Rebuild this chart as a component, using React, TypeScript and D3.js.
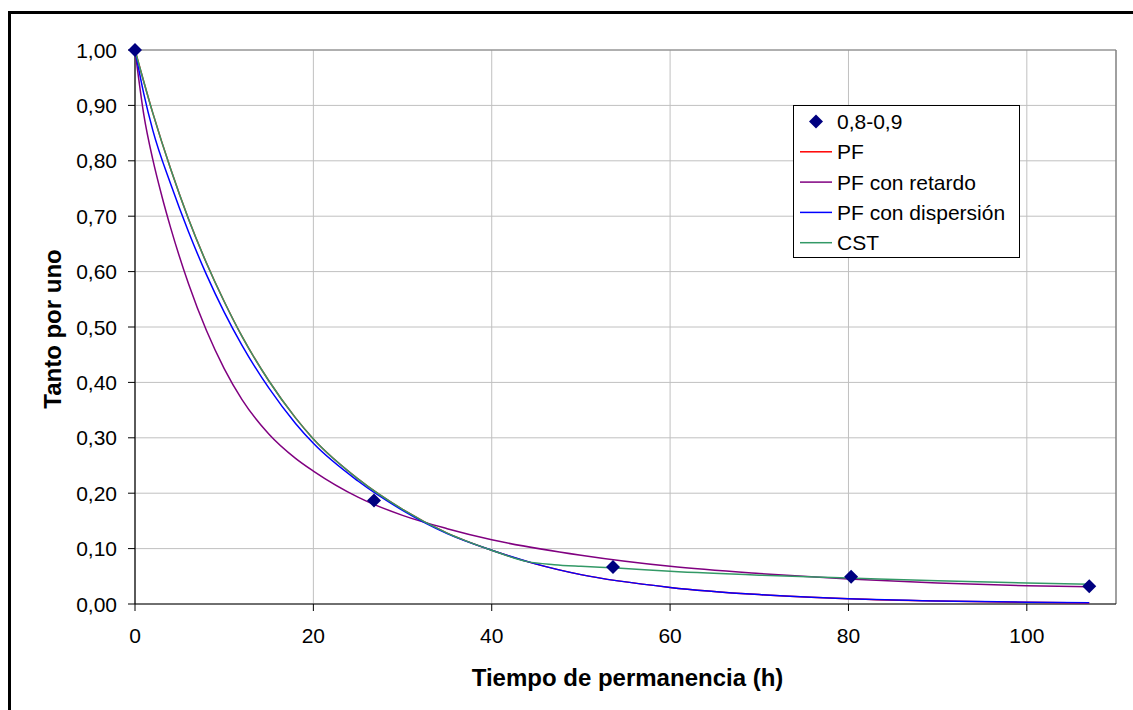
import React from "react";
import * as d3 from "d3";

const obsT = [0, 26.8, 53.6, 80.3, 107];
const obsV = [1.0, 0.187, 0.067, 0.049, 0.032];

const pfT = [0, 2, 4, 6, 8, 10, 12, 15, 18, 20, 25, 30, 35, 40, 45, 50, 60, 70, 80, 90, 100, 107];
const pfV = [1.0, 0.886, 0.785, 0.695, 0.616, 0.546, 0.483, 0.403, 0.336, 0.298, 0.226, 0.171, 0.128, 0.097, 0.072, 0.053, 0.03, 0.017, 0.0095, 0.0053, 0.003, 0.002];

const retT = [0, 1, 2, 3, 4, 6, 8, 10, 12, 15, 18, 20, 25, 30, 35, 40, 50, 60, 70, 80, 90, 100, 107];
const retV = [1.0, 0.882, 0.802, 0.737, 0.679, 0.578, 0.494, 0.425, 0.369, 0.307, 0.263, 0.24, 0.193, 0.16, 0.136, 0.116, 0.088, 0.068, 0.055, 0.045, 0.038, 0.033, 0.031];

const dispT = [0, 1, 2, 4, 6, 8, 10, 12, 15, 18, 20, 25, 30, 35, 40, 45, 50, 60, 70, 80, 90, 100, 107];
const dispV = [1.0, 0.92, 0.855, 0.758, 0.672, 0.595, 0.527, 0.467, 0.39, 0.326, 0.29, 0.222, 0.169, 0.127, 0.097, 0.072, 0.053, 0.03, 0.017, 0.0095, 0.0055, 0.0032, 0.0024];

const cstT = [0, 2, 4, 6, 8, 10, 12, 15, 18, 20, 25, 30, 35, 40, 44, 47, 50, 54, 60, 70, 80, 90, 100, 107];
const cstV = [1.0, 0.886, 0.785, 0.695, 0.616, 0.546, 0.483, 0.403, 0.336, 0.298, 0.226, 0.171, 0.128, 0.097, 0.0765, 0.071, 0.068, 0.065, 0.059, 0.052, 0.047, 0.042, 0.038, 0.0355];

const xTicks = [0, 20, 40, 60, 80, 100];
const yTicks = [0, 0.1, 0.2, 0.3, 0.4, 0.5, 0.6, 0.7, 0.8, 0.9, 1.0];

const seriesNames = ["0,8-0,9", "PF", "PF con retardo", "PF con dispersión", "CST"];
const seriesColors = ["#000080", "#FF0000", "#800080", "#0000FF", "#339966"];

const W = 1133;
const H = 710;
const L = 135, R = 1116, T = 50, B = 604;
const FONT = "'Liberation Sans', Arial, sans-serif";

export default function App() {
  const x = d3.scaleLinear().domain([0, 110]).range([L, R]);
  const y = d3.scaleLinear().domain([0, 1]).range([B, T]);
  const line = d3
    .line<[number, number]>()
    .x((d) => x(d[0]))
    .y((d) => y(d[1]))
    .curve(d3.curveMonotoneX);

  const lines = [
    { t: pfT, v: pfV, c: seriesColors[1] },
    { t: retT, v: retV, c: seriesColors[2] },
    { t: dispT, v: dispV, c: seriesColors[3] },
    { t: cstT, v: cstV, c: seriesColors[4] },
  ];

  const diamond = (cx: number, cy: number, r: number) =>
    `M${cx},${cy - r}L${cx + r},${cy}L${cx},${cy + r}L${cx - r},${cy}Z`;

  const fmt = (v: number) => v.toFixed(2).replace(".", ",");

  const legX = 793, legY = 105, legW = 226, legH = 152;
  const legStep = 30.3;
  const legStart = 121.5;

  return (
    <svg
      width={W}
      height={H}
      style={{ position: "absolute", left: 0, top: 0, background: "#fff" }}
      fontFamily={FONT}
    >
      <rect x={0} y={0} width={W} height={H} fill="#fff" />
      <rect x={9.5} y={12.5} width={W + 20} height={H + 20} fill="none" stroke="#000" strokeWidth={3} />
      {yTicks.map((v) => (
        <line key={"gy" + v} x1={L} x2={R} y1={y(v)} y2={y(v)} stroke="#c0c0c0" strokeWidth={1} />
      ))}
      {xTicks.map((v) => (
        <line key={"gx" + v} x1={x(v)} x2={x(v)} y1={T} y2={B} stroke="#c0c0c0" strokeWidth={1} />
      ))}
      <line x1={L} x2={R} y1={T} y2={T} stroke="#808080" strokeWidth={1} />
      <line x1={R} x2={R} y1={T} y2={B} stroke="#808080" strokeWidth={1.5} />
      <line x1={L} x2={L} y1={T} y2={B} stroke="#000" strokeWidth={1.2} />
      <line x1={L} x2={R} y1={B} y2={B} stroke="#000" strokeWidth={1.2} />
      {yTicks.map((v) => (
        <g key={"ty" + v}>
          <line x1={L - 7} x2={L} y1={y(v)} y2={y(v)} stroke="#000" strokeWidth={1} />
          <text x={117} y={y(v) + 7.5} textAnchor="end" fontSize={21} fill="#000">
            {fmt(v)}
          </text>
        </g>
      ))}
      {xTicks.map((v) => (
        <g key={"tx" + v}>
          <line x1={x(v)} x2={x(v)} y1={B} y2={B + 7} stroke="#000" strokeWidth={1} />
          <text x={x(v)} y={643} textAnchor="middle" fontSize={21} fill="#000">
            {v}
          </text>
        </g>
      ))}
      {lines.map((s, i) => (
        <path
          key={"l" + i}
          d={line(s.t.map((t, j) => [t, s.v[j]] as [number, number])) || ""}
          fill="none"
          stroke={s.c}
          strokeWidth={1.5}
        />
      ))}
      {obsT.map((t, i) => (
        <path key={"m" + i} d={diamond(x(t), y(obsV[i]), 7)} fill={seriesColors[0]} />
      ))}
      <text x={(L + R) / 2 + 2} y={686} textAnchor="middle" fontSize={24} fontWeight="bold" fill="#000">
        Tiempo de permanencia (h)
      </text>
      <text
        transform={`translate(61,${(T + B) / 2 + 2}) rotate(-90)`}
        textAnchor="middle"
        fontSize={24}
        fontWeight="bold"
        fill="#000"
      >
        Tanto por uno
      </text>
      <rect x={legX + 0.5} y={legY + 0.5} width={legW} height={legH} fill="#fff" stroke="#000" strokeWidth={1} />
      {seriesNames.map((n, i) => {
        const cy = legStart + i * legStep;
        return (
          <g key={"lg" + i}>
            {i === 0 ? (
              <path d={diamond(816, cy, 7)} fill={seriesColors[0]} />
            ) : (
              <line x1={800} x2={832} y1={cy} y2={cy} stroke={seriesColors[i]} strokeWidth={1.5} />
            )}
            <text x={837} y={cy + 7.5} fontSize={21} fill="#000">
              {n}
            </text>
          </g>
        );
      })}
    </svg>
  );
}
